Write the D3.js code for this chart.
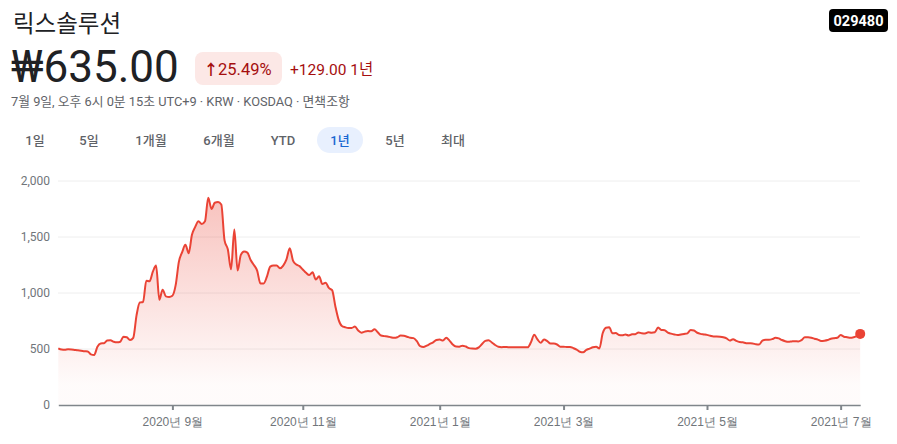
<!DOCTYPE html>
<html>
<head>
<meta charset="utf-8">
<script src="https://cdn.jsdelivr.net/npm/d3@7"></script>
<style>
  html, body { margin: 0; padding: 0; background: #fff; }
  svg { display: block; font-family: Roboto, "Noto Sans CJK KR", "Noto Sans", sans-serif; }
</style>
</head>
<body>
<svg id="chart" width="897" height="444"></svg>
<script>
// ---- data ----
const companyName = "릭스솔루션";
const tickerCode = "029480";
const priceText = "₩635.00";
const changePct = "25.49%";
const changeAbs = "+129.00 1년";
const subtitle = "7월 9일, 오후 6시 0분 15초 UTC+9 · KRW · KOSDAQ · 면책조항";
const rangeButtons = ["1일", "5일", "1개월", "6개월", "YTD", "1년", "5년", "최대"];
const activeRange = "1년";

// daily closing prices (trading days, 2020-07 .. 2021-07-09)
const prices = [
  506, 495, 493, 497, 496, 492, 488, 485, 480, 478,
  452, 446, 520, 550, 552, 575, 578, 565, 560, 565,
  610, 605, 580, 600, 800, 915, 920, 1110, 1105, 1190,
  1245, 940, 1030, 970, 965, 975, 1070, 1280, 1365, 1430,
  1355, 1520, 1590, 1640, 1615, 1640, 1850, 1750, 1806, 1812,
  1790, 1470, 1390, 1211, 1568, 1200, 1340, 1370, 1360, 1295,
  1250, 1200, 1085, 1085, 1146, 1235, 1245, 1245, 1220, 1245,
  1300, 1400, 1290, 1255, 1240, 1210, 1180, 1160, 1185, 1120,
  1150, 1080, 1092, 1045, 1025, 880, 760, 705, 694, 688,
  688, 700, 665, 646, 655, 660, 658, 676, 650, 620,
  615, 612, 605, 600, 605, 620, 618, 610, 600, 597,
  570, 525, 518, 530, 545, 560, 580, 585, 575, 600,
  575, 540, 522, 521, 530, 522, 508, 504, 503, 515,
  545, 572, 578, 558, 536, 520, 516, 518, 516, 515,
  516, 515, 515, 515, 515, 560, 628, 585, 555, 585,
  570, 548, 548, 540, 520, 520, 518, 518, 508, 495,
  475, 470, 492, 503, 515, 520, 505, 640, 690, 695,
  640, 642, 625, 622, 630, 620, 631, 632, 648, 640,
  638, 649, 646, 650, 692, 670, 668, 646, 637, 630,
  625, 630, 634, 640, 670, 665, 645, 635, 630, 626,
  618, 612, 612, 610, 605, 595, 575, 588, 572, 562,
  560, 552, 551, 550, 542, 540, 575, 582, 582, 588,
  600, 595, 580, 570, 565, 568, 570, 568, 580, 604,
  604, 600, 592, 584, 572, 574, 580, 592, 597, 600,
  625, 610, 605, 600, 605, 615, 635
];

const xTickLabels = ["2020년 9월", "2020년 11월", "2021년 1월", "2021년 3월", "2021년 5월", "2021년 7월"];
const xTickIndex = [35, 75, 117, 155, 199, 240];   // trading-day index of first session of month
const yTicks = [0, 500, 1000, 1500, 2000];

// ---- drawing ----
const svg = d3.select("#chart");
const red = "#ea4335";

// Header
svg.append("text").attr("x", 13).attr("y", 32)
  .attr("font-size", 23.5).attr("fill", "#202124").text(companyName);

const tk = svg.append("g").attr("transform", "translate(829,9)");
tk.append("rect").attr("width", 59).attr("height", 23).attr("rx", 4).attr("fill", "#000");
tk.append("text").attr("x", 29.5).attr("y", 17).attr("text-anchor", "middle")
  .attr("font-size", 14.5).attr("font-weight", 700).attr("fill", "#fff").text(tickerCode);

svg.append("text").attr("x", 11).attr("y", 82)
  .attr("font-size", 44).attr("fill", "#202124").text(priceText);

const badge = svg.append("g").attr("transform", "translate(195,52)");
badge.append("rect").attr("width", 87).attr("height", 33).attr("rx", 8).attr("fill", "#fce8e6");
badge.append("text").attr("x", 16).attr("y", 22.5).attr("text-anchor", "middle")
  .attr("font-size", 15).attr("font-weight", 700).attr("fill", "#a50e0e").text("↑");
badge.append("text").attr("x", 23).attr("y", 22.5)
  .attr("font-size", 16.5).attr("fill", "#a50e0e").text(changePct);

svg.append("text").attr("x", 290).attr("y", 74.5)
  .attr("font-size", 15.5).attr("fill", "#a50e0e").text(changeAbs);

svg.append("text").attr("x", 11).attr("y", 106)
  .attr("font-size", 12.8).attr("fill", "#5f6368").text(subtitle);

// Range buttons
const btnCenters = [35, 89, 151, 219, 283, 340, 395, 453];
rangeButtons.forEach((b, i) => {
  if (b === activeRange) {
    svg.append("rect").attr("x", btnCenters[i] - 23).attr("y", 127)
      .attr("width", 46).attr("height", 26).attr("rx", 13).attr("fill", "#e8f0fe");
  }
  svg.append("text").attr("x", btnCenters[i]).attr("y", 144.5).attr("text-anchor", "middle")
    .attr("font-size", 13).attr("font-weight", 500)
    .attr("fill", b === activeRange ? "#1967d2" : "#5f6368").text(b);
});

// Scales
const x = d3.scaleLinear().domain([0, prices.length - 1]).range([58.3, 860.2]);
const y = d3.scaleLinear().domain([0, 2000]).range([405, 181]);

// Gridlines
svg.append("g").selectAll("line").data(yTicks.filter(d => d > 0)).join("line")
  .attr("x1", 58).attr("x2", 860).attr("y1", d => y(d)).attr("y2", d => y(d))
  .attr("stroke", "#eeeeee").attr("stroke-width", 1);

// Y axis
const yAxis = svg.append("g").attr("transform", "translate(50,0)")
  .call(d3.axisLeft(y).tickValues(yTicks).tickSize(0).tickPadding(0).tickFormat(d3.format(",")));
yAxis.select(".domain").remove();
yAxis.selectAll("text").attr("font-size", 12).attr("fill", "#70757a")
  .attr("font-family", "Roboto, sans-serif");

// Area gradient
const defs = svg.append("defs");
const grad = defs.append("linearGradient").attr("id", "fillGrad")
  .attr("gradientUnits", "userSpaceOnUse").attr("x1", 0).attr("x2", 0)
  .attr("y1", y(1850)).attr("y2", 385);
grad.append("stop").attr("offset", 0).attr("stop-color", red).attr("stop-opacity", 0.32);
grad.append("stop").attr("offset", 1).attr("stop-color", red).attr("stop-opacity", 0.02);

const area = d3.area().x((d, i) => x(i)).y0(y(0)).y1(d => y(d));
svg.append("path").datum(prices).attr("d", area).attr("fill", "url(#fillGrad)");

const line = d3.line().x((d, i) => x(i)).y(d => y(d)).curve(d3.curveMonotoneX);
svg.append("path").datum(prices).attr("d", line)
  .attr("fill", "none").attr("stroke", red).attr("stroke-width", 2)
  .attr("stroke-linejoin", "round");

// X axis
const xAxis = svg.append("g").attr("transform", `translate(0,${y(0)})`)
  .call(d3.axisBottom(x).tickValues(xTickIndex).tickSize(5).tickSizeOuter(0)
    .tickFormat((d, i) => xTickLabels[i]));
xAxis.select(".domain").attr("stroke", "#80868b").attr("stroke-width", 1.3);
xAxis.selectAll(".tick line").attr("stroke", "#80868b").attr("stroke-width", 2);
xAxis.selectAll("text").attr("font-size", 12).attr("fill", "#70757a").attr("dy", "1.05em");

// Endpoint dot
svg.append("circle").attr("cx", x(prices.length - 1)).attr("cy", y(prices[prices.length - 1]))
  .attr("r", 5).attr("fill", red);
</script>
</body>
</html>
